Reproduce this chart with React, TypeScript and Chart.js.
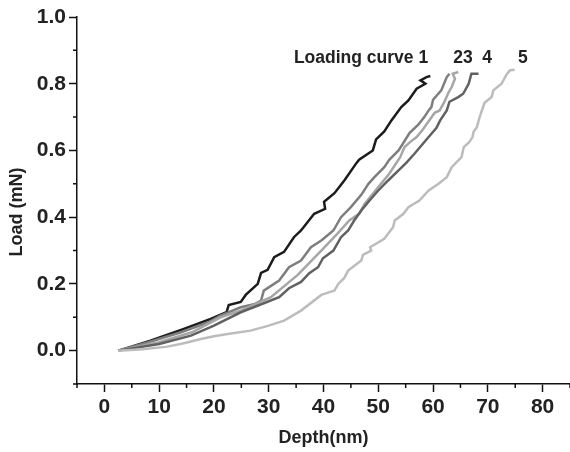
import React, { useEffect, useRef } from "react";
import { Chart, registerables } from "chart.js";

Chart.register(...registerables);

// Curve 1 (black)
const depth1 = [2.6, 8.4, 14.5, 19.4, 22.3, 22.7, 24.9, 25.8, 28.0, 28.6, 29.8, 31.0, 32.8, 34.6, 35.9, 38.3, 40.3, 40.1, 42.0, 43.8, 46.0, 46.5, 49.0, 49.6, 51.1, 52.4, 54.2, 55.5, 57.0, 58.6, 57.7, 58.8, 59.5];
const load1 = [0.0, 0.03, 0.065, 0.095, 0.115, 0.137, 0.146, 0.167, 0.2, 0.233, 0.242, 0.28, 0.296, 0.34, 0.36, 0.41, 0.425, 0.446, 0.472, 0.51, 0.562, 0.572, 0.6, 0.633, 0.657, 0.69, 0.73, 0.75, 0.785, 0.8, 0.81, 0.82, 0.823];
// Curve 2
const depth2 = [2.5, 8, 14, 19, 21.2, 24.9, 27.5, 28.6, 29.1, 31.9, 33.7, 35.9, 37.7, 39.6, 41.8, 43.2, 45, 46.9, 48.2, 49.3, 51.1, 52, 53.7, 54.6, 55.7, 57.3, 58.4, 59.2, 59.7, 60.0, 61.5, 62.5, 63.0];
const load2 = [0, 0.025, 0.055, 0.085, 0.105, 0.13, 0.14, 0.15, 0.18, 0.21, 0.25, 0.27, 0.31, 0.33, 0.36, 0.4, 0.43, 0.467, 0.5, 0.52, 0.55, 0.572, 0.6, 0.623, 0.652, 0.677, 0.7, 0.72, 0.73, 0.752, 0.78, 0.82, 0.83];
// Curve 3
const depth3 = [2.5, 10, 16, 21.2, 24.9, 30.4, 35.3, 39.6, 42.5, 44.7, 46.5, 47.5, 49, 50, 52, 53.2, 54, 54.8, 55.8, 57, 58, 59.3, 60.3, 61.2, 62, 62.8, 63.4, 64, 63.6, 64.6];
const load3 = [0, 0.025, 0.055, 0.1, 0.12, 0.16, 0.227, 0.3, 0.35, 0.39, 0.41, 0.44, 0.47, 0.49, 0.53, 0.56, 0.58, 0.61, 0.625, 0.64, 0.66, 0.69, 0.713, 0.72, 0.743, 0.773, 0.79, 0.815, 0.83, 0.835];
// Curve 4
const depth4 = [2.5, 10, 15.8, 20, 24.9, 29.1, 31.9, 33.7, 35.9, 37.4, 39, 39.9, 41.8, 43.2, 44.5, 45.6, 46.9, 48.4, 50, 51.8, 53.7, 55.1, 56.6, 58.3, 59.7, 60.6, 61.3, 62.5, 63, 64.6, 65.5, 66.5, 67, 68.3];
const load4 = [0, 0.02, 0.045, 0.075, 0.115, 0.142, 0.16, 0.187, 0.206, 0.232, 0.25, 0.277, 0.3, 0.34, 0.36, 0.39, 0.42, 0.45, 0.48, 0.51, 0.54, 0.563, 0.59, 0.623, 0.65, 0.667, 0.69, 0.72, 0.746, 0.76, 0.77, 0.8, 0.83, 0.83];
// Curve 5
const depth5 = [2.5, 7, 11.5, 14.5, 17.6, 20, 22.5, 26.7, 30, 32.8, 35.9, 39.6, 42, 42.7, 43.8, 44.5, 46.9, 47.2, 48.7, 48.5, 51.1, 52.7, 53, 54.6, 55.5, 57.5, 59.2, 61, 62.5, 63.4, 65.2, 65.6, 66.6, 67.2, 67.4, 68, 68.5, 69.4, 70.7, 71, 72.5, 73.4, 74, 74.9];
const load5 = [0, 0.004, 0.012, 0.022, 0.035, 0.043, 0.05, 0.06, 0.075, 0.09, 0.12, 0.167, 0.18, 0.2, 0.218, 0.24, 0.27, 0.287, 0.3, 0.31, 0.335, 0.37, 0.39, 0.41, 0.43, 0.45, 0.48, 0.5, 0.52, 0.55, 0.58, 0.61, 0.625, 0.64, 0.656, 0.67, 0.7, 0.743, 0.76, 0.78, 0.8, 0.827, 0.84, 0.842];

const xTicks = [0, 10, 20, 30, 40, 50, 60, 70, 80];
const xMinor = [-5, 5, 15, 25, 35, 45, 55, 65, 75, 85];
const yTicks = [0.0, 0.2, 0.4, 0.6, 0.8, 1.0];
const yMinor = [-0.1, 0.1, 0.3, 0.5, 0.7, 0.9];

const curveLabels = [
  { text: "Loading curve 1", d: 34.6, l: 0.862 },
  { text: "23", d: 63.7, l: 0.862 },
  { text: "4", d: 69.0, l: 0.862 },
  { text: "5", d: 75.5, l: 0.862 },
];

const FONT = '"Liberation Sans", Arial, Helvetica, sans-serif';

const zip = (xs: number[], ys: number[]) => xs.map((x, i) => ({ x, y: ys[i] }));

const extras = {
  id: "extras",
  afterDraw(chart: any) {
    const ctx = chart.ctx;
    const xs = chart.scales.x;
    const ys = chart.scales.y;
    const axisX = chart.chartArea.left;
    const axisY = chart.chartArea.bottom;
    ctx.save();
    ctx.strokeStyle = "#111";
    ctx.lineWidth = 1.5;
    ctx.beginPath();
    for (const v of xMinor) {
      const px = xs.getPixelForValue(v);
      ctx.moveTo(px, axisY);
      ctx.lineTo(px, axisY + 4);
    }
    for (const v of yMinor) {
      const py = ys.getPixelForValue(v);
      ctx.moveTo(axisX, py);
      ctx.lineTo(axisX - 4, py);
    }
    ctx.stroke();

    ctx.fillStyle = "#222";
    ctx.font = `bold 18px ${FONT}`;
    ctx.textAlign = "center";
    ctx.textBaseline = "alphabetic";
    ctx.fillText("Depth(nm)", (chart.chartArea.left + chart.chartArea.right) / 2, 443);
    ctx.save();
    ctx.translate(22, 212);
    ctx.rotate(-Math.PI / 2);
    ctx.fillText("Load (mN)", 0, 0);
    ctx.restore();

    ctx.font = `bold 17.5px ${FONT}`;
    ctx.textAlign = "left";
    for (const lb of curveLabels) {
      ctx.fillText(lb.text, xs.getPixelForValue(lb.d), ys.getPixelForValue(lb.l));
    }
    ctx.restore();
  },
};

export default function App() {
  const ref = useRef<HTMLCanvasElement | null>(null);
  useEffect(() => {
    if (!ref.current) return;
    const mk = (d: number[], l: number[], color: string) => ({
      data: zip(d, l),
      borderColor: color,
      backgroundColor: color,
      borderWidth: 2.5,
      pointRadius: 0,
      showLine: true,
      fill: false,
      tension: 0,
    });
    const chart = new Chart(ref.current, {
      type: "scatter",
      data: {
        datasets: [
          mk(depth5, load5, "#bcbcbc"),
          mk(depth4, load4, "#616161"),
          mk(depth3, load3, "#a6a6a6"),
          mk(depth2, load2, "#7e7e7e"),
          mk(depth1, load1, "#1c1c1c"),
        ],
      },
      options: {
        responsive: false,
        animation: false,
        layout: { padding: { top: 17, right: 0, left: 0, bottom: 0 } },
        plugins: { legend: { display: false }, tooltip: { enabled: false } },
        scales: {
          x: {
            type: "linear",
            min: -5,
            max: 85,
            afterBuildTicks: (s: any) => {
              s.ticks = xTicks.map((v) => ({ value: v }));
            },
            afterFit: (s: any) => {
              s.height = 68;
            },
            grid: { display: true, drawOnChartArea: false, drawTicks: true, tickLength: 8, tickColor: "#111", tickWidth: 1.5 },
            border: { display: true, color: "#111", width: 1.5 },
            ticks: {
              font: { family: FONT, size: 21, weight: "bold" },
              color: "#222",
              padding: 3,
              maxRotation: 0,
              autoSkip: false,
              callback: (v: any) => String(v),
            },
          },
          y: {
            type: "linear",
            min: -0.1,
            max: 1.0,
            afterBuildTicks: (s: any) => {
              s.ticks = yTicks.map((v) => ({ value: v }));
            },
            afterFit: (s: any) => {
              s.width = 77;
            },
            grid: { display: true, drawOnChartArea: false, drawTicks: true, tickLength: 8, tickColor: "#111", tickWidth: 1.5 },
            border: { display: true, color: "#111", width: 1.5 },
            ticks: {
              font: { family: FONT, size: 21, weight: "bold" },
              color: "#222",
              padding: 3,
              autoSkip: false,
              callback: (v: any) => Number(v).toFixed(1),
            },
          },
        },
      },
      plugins: [extras],
    } as any);
    return () => chart.destroy();
  }, []);
  return (
    <div style={{ position: "absolute", left: 0, top: 0, width: 570, height: 452, background: "#fff" }}>
      <canvas ref={ref} width={570} height={452} style={{ width: 570, height: 452, display: "block" }} />
    </div>
  );
}
